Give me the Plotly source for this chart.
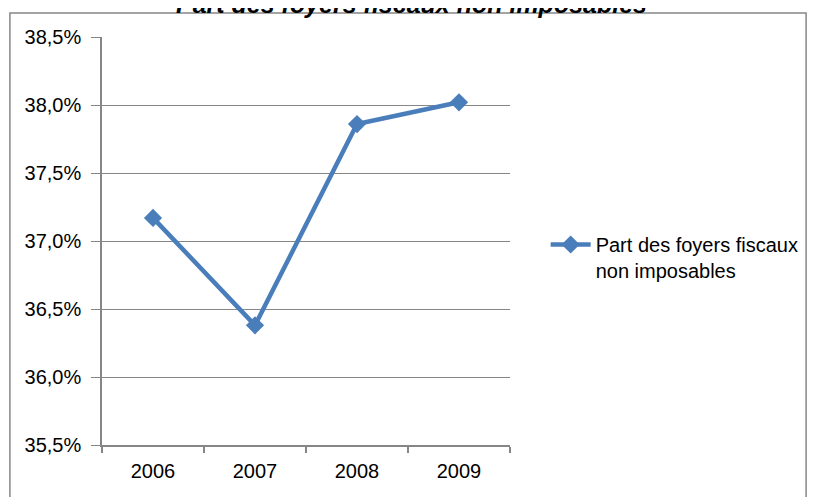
import plotly.graph_objects as go

years = ["2006", "2007", "2008", "2009"]
share = [37.17, 36.38, 37.86, 38.02]
y_ticks = [35.5, 36.0, 36.5, 37.0, 37.5, 38.0, 38.5]
y_labels = ["35,5%", "36,0%", "36,5%", "37,0%", "37,5%", "38,0%", "38,5%"]
series_name = "Part des foyers fiscaux<br>non imposables"
title_text = "Part des foyers fiscaux non imposables"

# page body has an 8px default margin: work in screen pixels and compensate
OFF = 8
W, H = 816 - OFF, 497 - OFF
L, R, T, B = 102, 514, 37, 445          # plot area in screen pixels
pw, ph = R - L, B - T

def px_x(x):
    return (x - L) / pw

def px_y(y):
    return (B - y) / ph

blue = "#4A7EBB"
grid = "#868686"
font = "Liberation Sans"
fs = 20

fig = go.Figure()
fig.add_trace(go.Scatter(
    x=years, y=share, mode="lines+markers", name=series_name,
    line=dict(color=blue, width=4.5),
    marker=dict(symbol="diamond", size=14, color=blue),
))

fig.update_layout(
    width=W, height=H,
    margin=dict(l=L - OFF, r=W - (R - OFF), t=T - OFF, b=H - (B - OFF), pad=0),
    paper_bgcolor="white", plot_bgcolor="white",
    font=dict(family=font, size=fs, color="#000000"),
    showlegend=True,
    legend=dict(x=px_x(550), y=px_y(225), xanchor="left", yanchor="top",
                valign="top", font=dict(size=fs, family=font),
                bgcolor="rgba(0,0,0,0)", itemwidth=40, tracegroupgap=0),
    xaxis=dict(type="category", range=[-0.5, 3.5], showgrid=False,
               showline=True, linecolor=grid, linewidth=1.5,
               ticks="outside", tickson="boundaries", ticklen=6,
               tickcolor=grid, tickwidth=1.5, ticklabelstandoff=7,
               tickfont=dict(size=fs, family=font), fixedrange=True),
    yaxis=dict(range=[35.5, 38.5], tickvals=y_ticks, ticktext=y_labels,
               showgrid=True, gridcolor=grid, gridwidth=1.2,
               showline=True, linecolor=grid, linewidth=1.5,
               ticks="outside", ticklen=9, tickcolor=grid, tickwidth=1.2,
               ticklabelstandoff=6, zeroline=False,
               tickfont=dict(size=fs, family=font), fixedrange=True),
    shapes=[dict(type="rect", xref="paper", yref="paper",
                 x0=px_x(9), x1=px_x(813), y0=px_y(520), y1=px_y(13),
                 line=dict(color=grid, width=1.5), fillcolor="rgba(0,0,0,0)",
                 layer="below")],
    annotations=[dict(text="<b><i>" + title_text + "</i></b>", xref="paper",
                      yref="paper", x=px_x(415), y=px_y(4),
                      xanchor="center", yanchor="middle", showarrow=False,
                      font=dict(size=25, family=font, color="#000000"))],
)

fig.write_html("out.html")
